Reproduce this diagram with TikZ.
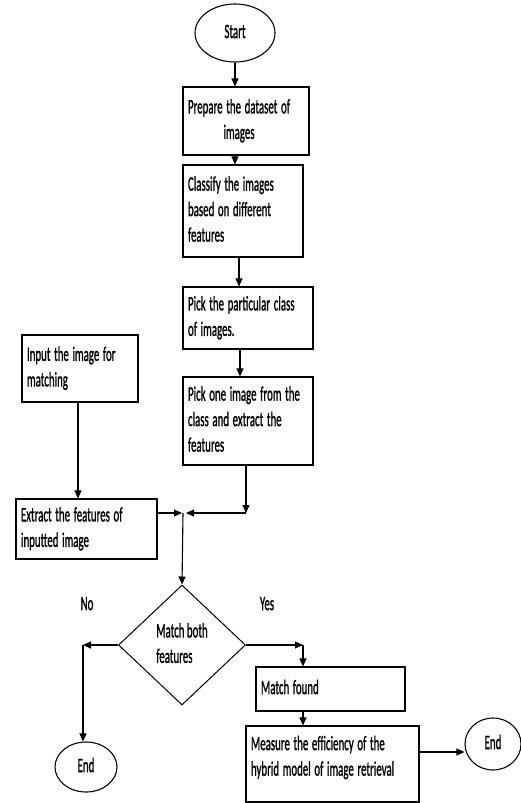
\documentclass[tikz,border=0pt]{standalone}
\usepackage{fontspec}
\usepackage{graphicx}
\setmainfont[FakeBold=1.5]{Carlito}
\usetikzlibrary{shapes.geometric,arrows.meta}
\newcommand{\sqz}[2][l]{\scalebox{0.53}[1]{\begin{tabular}{@{}#1@{}}#2\end{tabular}}}
\begin{document}
\begin{tikzpicture}[x=1pt,y=-1pt,
  every node/.style={font=\fontsize{20.5}{25.5}\selectfont, text=black},
  pbox/.style={draw, line width=1.1pt, align=left, inner xsep=5pt, inner ysep=0pt},
  oval/.style={draw, ellipse, line width=1.1pt, inner sep=0pt},
  arr/.style={line width=1.1pt, -{Triangle[length=8pt,width=7pt]}}]
\useasboundingbox (0,0) rectangle (520,803);
\fill[white] (0,0) rectangle (520,803);
% nodes
\node[oval, minimum width=80pt, minimum height=58pt] (start) at (235,33) {\sqz{Start}};
\node[pbox, text width=116pt, minimum height=68pt] (b1) at (246,121)
  {\sqz[c]{Prepare the dataset of\\images}};
\node[pbox, text width=110pt, minimum height=92pt] (b2) at (243,211)
  {\sqz{Classify the images\\based on different\\features}};
\node[pbox, text width=120pt, minimum height=62pt] (b3) at (248,318)
  {\sqz{Pick the particular class\\of images.}};
\node[pbox, text width=120pt, minimum height=88pt] (b4) at (248,421)
  {\sqz{Pick one image from the\\class and extract the\\features}};
\node[pbox, text width=106pt, minimum height=67pt] (inp) at (80,368.5)
  {\sqz{Input the image for\\matching}};
\node[pbox, text width=131pt, minimum height=60pt] (ext) at (86.5,529)
  {\sqz{Extract the features of\\inputted image}};
\node[draw, diamond, line width=1pt, inner sep=0pt, aspect=1.06,
  minimum width=127pt, minimum height=120pt] (dia) at (182,645)
  {\sqz{Match both\\features}};
\node[pbox, text width=139pt, minimum height=44pt] (match) at (330.5,689)
  {\sqz{Match found}};
\node[pbox, text width=163pt, minimum height=76pt] (meas) at (332.5,764)
  {\sqz{Measure the efficiency of the\\hybrid model of image retrieval\\[-13pt]\mbox{}}};
\node[oval, minimum width=62pt, minimum height=50pt] (endL) at (86,767) {\sqz{End}};
\node[oval, minimum width=56pt, minimum height=52pt] (endR) at (493,744) {\sqz{End}};
\node (no) at (87,605) {\sqz{No}};
\node (yes) at (267,605) {\sqz{Yes}};
% helper coordinates
\coordinate (c1) at (246,513);
\coordinate (J) at (183,513);
\coordinate (nL) at (83,645);
\coordinate (yR) at (303,645);
% connectors
\draw[arr] (start.south) -- (start.south |- b1.north);
\draw[arr] ([xshift=-11pt]b1.south) -- ([xshift=-11pt]b1.south |- b2.north);
\draw[arr] ([xshift=-4pt]b2.south) -- ([xshift=-4pt]b2.south |- b3.north);
\draw[arr] ([xshift=-8pt]b3.south) -- ([xshift=-8pt]b3.south |- b4.north);
\draw[arr] ([xshift=-2pt]inp.south) -- ([xshift=-2pt]inp.south |- ext.north);
\draw[arr] (b4.south -| c1) -- (c1);
\draw[arr] (c1) -- ([xshift=3pt]J);
\draw[arr] (ext.east |- J) -- ([xshift=-1pt]J);
\draw[arr] (J) -- (dia.north);
\draw[arr] (dia.west) -- (nL);
\draw[arr] (nL) -- (nL |- endL.north);
\draw[arr] (dia.east) -- (yR);
\draw[arr] (yR) -- (yR |- match.north);
\draw[arr] ([xshift=-27.5pt]match.south) -- ([xshift=-27.5pt]match.south |- meas.north);
\draw[arr] ([yshift=12pt]meas.east) -- ([yshift=12pt]meas.east -| endR.west);
\end{tikzpicture}
\end{document}
